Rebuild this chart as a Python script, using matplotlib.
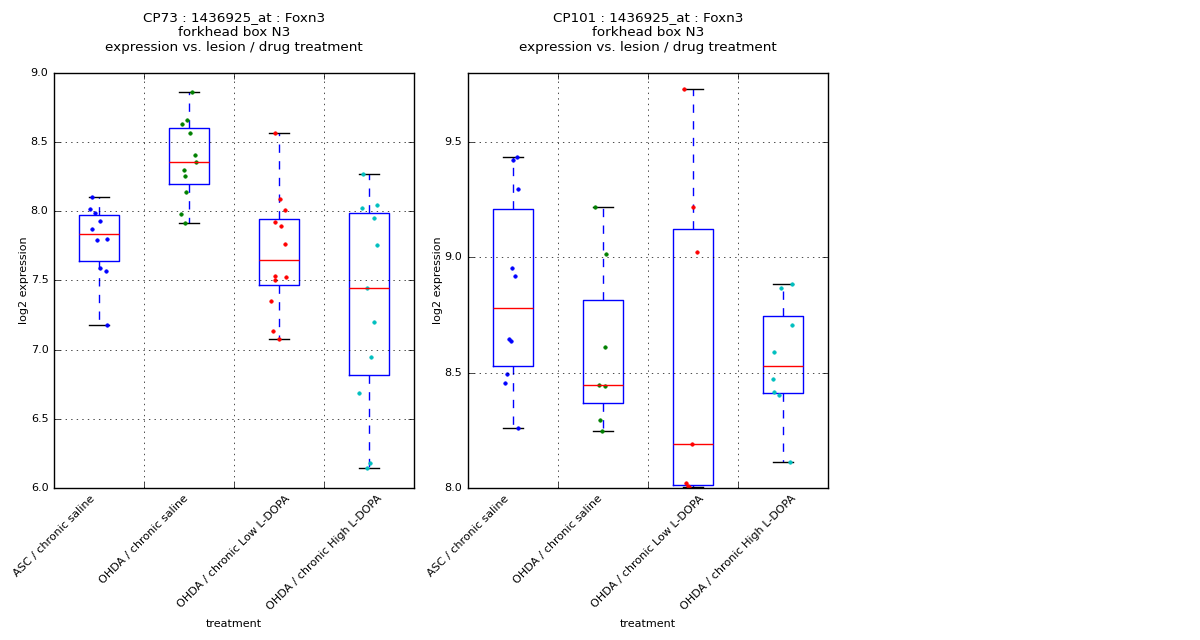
import matplotlib
matplotlib.use('Agg')
import matplotlib.pyplot as plt

plt.style.use('classic')

treatments = ['ASC / chronic saline', 'OHDA / chronic saline',
              'OHDA / chronic Low L-DOPA', 'OHDA / chronic High L-DOPA']
colors = ['b', 'g', 'r', 'c']

# CP73 expression values per group, and the horizontal jitter of each dot
cp73_asc = [8.10, 8.02, 7.99, 7.93, 7.875, 7.80, 7.79, 7.59, 7.57, 7.18]
cp73_sal = [8.863, 8.663, 8.634, 8.569, 8.41, 8.357, 8.30, 8.256, 8.143, 7.98, 7.914]
cp73_low = [8.564, 8.092, 8.01, 7.926, 7.897, 7.767, 7.535, 7.528, 7.504, 7.355, 7.138, 7.08]
cp73_high = [8.273, 8.049, 8.027, 7.955, 7.759, 7.446, 7.20, 6.95, 6.689, 6.183, 6.147]
cp73_jit = [
    [-0.078, -0.096, -0.041, 0.011, -0.078, 0.089, -0.019, 0.011, 0.081, 0.089],
    [0.037, -0.019, -0.074, 0.007, 0.070, 0.081, -0.052, -0.041, -0.030, -0.093, -0.041],
    [-0.048, 0.015, 0.070, -0.048, 0.026, 0.070, -0.041, 0.081, -0.041, -0.085, -0.063, 0.004],
    [-0.063, 0.085, -0.074, 0.059, 0.085, -0.019, 0.059, 0.026, -0.107, 0.015, -0.019],
]

# CP101
cp101_asc = [9.435, 9.421, 9.298, 8.952, 8.918, 8.647, 8.637, 8.496, 8.455, 8.259]
cp101_sal = [9.220, 9.017, 8.611, 8.447, 8.442, 8.295, 8.248]
cp101_low = [9.729, 9.220, 9.024, 8.192, 8.022, 8.008, 8.004]
cp101_high = [8.883, 8.866, 8.706, 8.589, 8.473, 8.416, 8.403, 8.114]
cp101_jit = [
    [0.044, 0.0, 0.056, -0.011, 0.026, -0.048, -0.022, -0.070, -0.093, 0.056],
    [-0.093, 0.037, 0.019, -0.041, 0.019, -0.030, -0.015],
    [-0.096, 0.004, 0.041, -0.015, -0.074, -0.052, -0.050],
    [0.096, -0.019, 0.096, -0.096, -0.107, -0.096, -0.041, 0.081],
]

panels = [
    ('CP73', [cp73_asc, cp73_sal, cp73_low, cp73_high], cp73_jit,
     (6.0, 9.0), [6.0, 6.5, 7.0, 7.5, 8.0, 8.5, 9.0]),
    ('CP101', [cp101_asc, cp101_sal, cp101_low, cp101_high], cp101_jit,
     (8.0, 9.8), [8.0, 8.5, 9.0, 9.5]),
]

fig = plt.figure(figsize=(12, 6.4), dpi=100, facecolor='white')

lefts = [0.045, 0.39]
for left, (name, groups, jit, ylim, yticks) in zip(lefts, panels):
    ax = fig.add_axes([left, 0.2375, 0.3, 0.6485])
    ax.boxplot(groups)
    for i, (vals, jj) in enumerate(zip(groups, jit)):
        xs = [i + 1 + j for j in jj]
        ax.plot(xs, vals, '.', color=colors[i], markersize=5)
    ax.set_xlim(0.5, 4.5)
    ax.set_ylim(*ylim)
    ax.set_yticks(yticks)
    ax.set_yticklabels(['%.1f' % t for t in yticks], fontsize=8)
    # the original puts ticks (and centred labels) half a slot to the left
    ax.set_xticks([0.5, 1.5, 2.5, 3.5])
    ax.set_xticklabels(treatments, rotation=45, ha='center', fontsize=8)
    ax.grid(True)
    ax.set_xlabel('treatment', fontsize=8)
    ax.set_ylabel('log2 expression', fontsize=8, labelpad=1)
    ax.set_title(name + ' : 1436925_at : Foxn3\nforkhead box N3\n'
                 'expression vs. lesion / drug treatment', fontsize=9.7, pad=16)

fig.savefig('out.png', dpi=100, facecolor='white')
